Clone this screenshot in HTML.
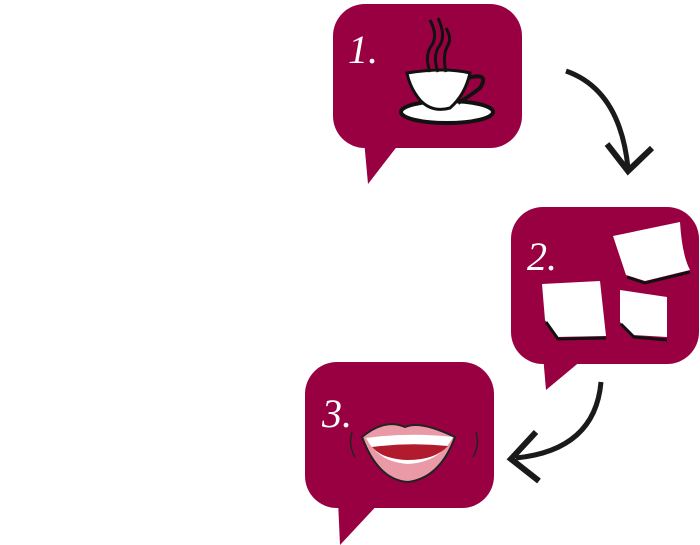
<!DOCTYPE html>
<html><head><meta charset="utf-8"><style>
html,body{margin:0;padding:0;background:#fff;width:700px;height:545px;overflow:hidden}
</style></head><body>
<svg width="700" height="545" viewBox="0 0 700 545" xmlns="http://www.w3.org/2000/svg">
<g fill="#990041">
  <rect x="333" y="4" width="189" height="144" rx="32"/>
  <path d="M364 140 L402 140 L368 184 Z"/>
  <rect x="511" y="207" width="188" height="157" rx="32"/>
  <path d="M543 355 L588 355 L546 390 Z"/>
  <rect x="305" y="362" width="189" height="146" rx="32"/>
  <path d="M338 500 L382 500 L340 545 Z"/>
</g>
<g fill="#fff" font-family="Liberation Serif, serif" font-style="italic" font-size="40">
  <text x="348" y="63">1.</text>
  <text x="527" y="270">2.</text>
  <text x="322" y="427">3.</text>
</g>
<!-- cup -->
<g>
  <ellipse cx="447" cy="112" rx="46" ry="11" fill="#fff" stroke="#111" stroke-width="4"/>
  <path d="M407 73 Q445 67 470 73 Q465 95 450 108 Q432 113 420 100 Q410 88 407 73 Z" fill="#fff" stroke="#111" stroke-width="3"/>
  <path d="M468 78 Q490 72 480 88 Q470 96 458 103" fill="none" stroke="#111" stroke-width="4"/>
  <path d="M430 72 Q424 55 432 45 Q438 35 430 20 M438 72 Q432 55 440 45 Q446 35 438 18 M446 72 Q442 55 448 45 Q452 38 446 28" fill="none" stroke="#111" stroke-width="3"/>
</g>
<!-- notes -->
<g fill="#fff">
  <path d="M613 236 L680 222 Q682 255 690 270 L645 281 L626 275 Z"/>
  <path d="M542 284 L600 281 L606 336 L555 337 L545 320 Z"/>
  <path d="M620 290 L667 297 L667 337 L632 335 L620 322 Z"/>
</g>
<g fill="none" stroke="#111" stroke-width="3">
  <path d="M627 277 L645 283 L690 272"/>
  <path d="M546 322 L558 339 L606 338"/>
  <path d="M621 324 L634 337 L667 340"/>
</g>
<!-- mouth -->
<g>
  <path d="M362 437 Q385 418 405 427 Q420 420 455 437 Q440 478 408 482 Q378 480 362 437 Z" fill="#e99aa6" stroke="#222" stroke-width="2"/>
  <path d="M366 438 Q410 432 453 437 Q440 462 408 464 Q378 462 366 438 Z" fill="#fff"/>
  <path d="M372 447 Q410 442 448 446 Q435 460 408 460 Q382 459 372 447 Z" fill="#b01c2e"/>
  <path d="M352 432 Q348 445 355 457 M476 432 Q480 445 473 457" fill="none" stroke="#222" stroke-width="1.5"/>
</g>
<!-- arrows -->
<g fill="none" stroke="#1a1a1a" stroke-linecap="butt">
  <path d="M566 71 Q620 90 628 168" stroke-width="5"/>
  <path d="M607 144 L628 171 L652 148" stroke-width="6"/>
  <path d="M601 382 Q595 450 516 458" stroke-width="5"/>
  <path d="M536 432 L511 459 L539 481" stroke-width="6"/>
</g>
</svg>
</body></html>
